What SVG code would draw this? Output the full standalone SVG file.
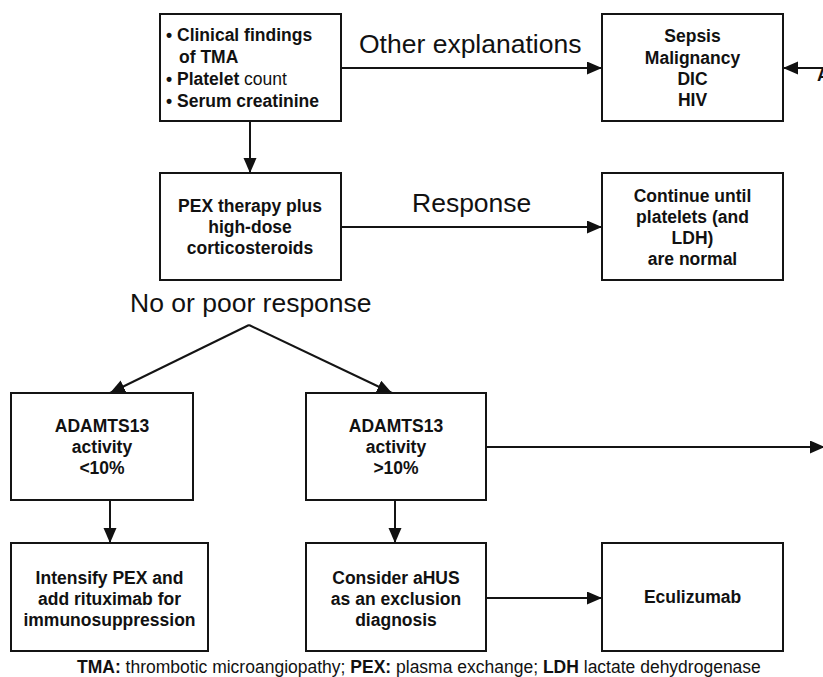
<svg xmlns="http://www.w3.org/2000/svg" width="823" height="677" viewBox="0 0 823 677">
<style>
.box{fill:#fff;stroke:#141414;stroke-width:2}
.t{font-family:"Liberation Sans",Arial,sans-serif;font-size:17.5px;font-weight:bold;fill:#111;text-anchor:middle}
.tl{font-family:"Liberation Sans",Arial,sans-serif;font-size:17.5px;font-weight:bold;fill:#111}
.lab{font-family:"Liberation Sans",Arial,sans-serif;font-size:26.5px;fill:#111}
.ft{font-family:"Liberation Sans",Arial,sans-serif;font-size:17.5px;fill:#111}
.n{font-weight:normal}
.c{fill:none;stroke:#141414;stroke-width:2}
</style>
<defs>
<marker id="ah" markerUnits="userSpaceOnUse" markerWidth="16" markerHeight="14" refX="15" refY="6.5" orient="auto">
<path d="M0,0 L15,6.5 L0,13 z" fill="#111"/>
</marker>
</defs>
<rect width="823" height="677" fill="#fff"/>

<g id="connectors">
<line class="c" x1="250" y1="121" x2="250" y2="173" marker-end="url(#ah)"/>
<line class="c" x1="341" y1="68" x2="602" y2="68" marker-end="url(#ah)"/>
<line class="c" x1="830" y1="68" x2="783" y2="68" marker-end="url(#ah)"/>
<line class="c" x1="341" y1="227" x2="602" y2="227" marker-end="url(#ah)"/>
<line class="c" x1="249" y1="325" x2="110" y2="393" marker-end="url(#ah)"/>
<line class="c" x1="249" y1="325" x2="392" y2="393" marker-end="url(#ah)"/>
<line class="c" x1="110" y1="500" x2="110" y2="543" marker-end="url(#ah)"/>
<line class="c" x1="395" y1="500" x2="395" y2="543" marker-end="url(#ah)"/>
<line class="c" x1="486" y1="447" x2="825" y2="447" marker-end="url(#ah)"/>
<line class="c" x1="486" y1="598" x2="602" y2="598" marker-end="url(#ah)"/>
<text class="lab" x="359" y="53">Other explanations</text>
<text class="lab" x="412" y="212">Response</text>
<text class="lab" x="130" y="312">No or poor response</text>
<text class="tl" x="817" y="81">A</text>
</g>

<g id="findings">
<rect class="box" x="160" y="14" width="181" height="107"/>
<text class="tl" x="166" y="41">• Clinical findings</text>
<text class="tl" x="179" y="63">of TMA</text>
<text class="tl" x="166" y="85">• Platelet<tspan class="n"> count</tspan></text>
<text class="tl" x="166" y="107">• Serum creatinine</text>
</g>

<g id="other">
<rect class="box" x="602" y="14" width="181" height="107"/>
<text class="t" x="692.5" y="42">Sepsis</text>
<text class="t" x="692.5" y="64">Malignancy</text>
<text class="t" x="692.5" y="85">DIC</text>
<text class="t" x="692.5" y="106">HIV</text>
</g>

<g id="pex">
<rect class="box" x="160" y="173" width="181" height="107"/>
<text class="t" x="250" y="212">PEX therapy plus</text>
<text class="t" x="250" y="233">high-dose</text>
<text class="t" x="250" y="254">corticosteroids</text>
</g>

<g id="continue">
<rect class="box" x="602" y="173" width="181" height="107"/>
<text class="t" x="692.5" y="202">Continue until</text>
<text class="t" x="692.5" y="223">platelets (and</text>
<text class="t" x="692.5" y="244">LDH)</text>
<text class="t" x="692.5" y="265">are normal</text>
</g>

<g id="low">
<rect class="box" x="11" y="393" width="182" height="107"/>
<text class="t" x="102" y="432">ADAMTS13</text>
<text class="t" x="102" y="453">activity</text>
<text class="t" x="102" y="474">&lt;10%</text>
</g>

<g id="high">
<rect class="box" x="306" y="393" width="180" height="107"/>
<text class="t" x="396" y="432">ADAMTS13</text>
<text class="t" x="396" y="453">activity</text>
<text class="t" x="396" y="474">&gt;10%</text>
</g>

<g id="intensify">
<rect class="box" x="11" y="543" width="197" height="108"/>
<text class="t" x="109.5" y="584">Intensify PEX and</text>
<text class="t" x="109.5" y="605">add rituximab for</text>
<text class="t" x="109.5" y="626">immunosuppression</text>
</g>

<g id="ahus">
<rect class="box" x="306" y="543" width="180" height="108"/>
<text class="t" x="396" y="584">Consider aHUS</text>
<text class="t" x="396" y="605">as an exclusion</text>
<text class="t" x="396" y="626">diagnosis</text>
</g>

<g id="eculizumab">
<rect class="box" x="602" y="543" width="181" height="108"/>
<text class="t" x="692.5" y="603">Eculizumab</text>
</g>

<text class="ft" x="77" y="673"><tspan font-weight="bold">TMA:</tspan> thrombotic microangiopathy; <tspan font-weight="bold">PEX:</tspan> plasma exchange; <tspan font-weight="bold">LDH</tspan> lactate dehydrogenase</text>
</svg>
